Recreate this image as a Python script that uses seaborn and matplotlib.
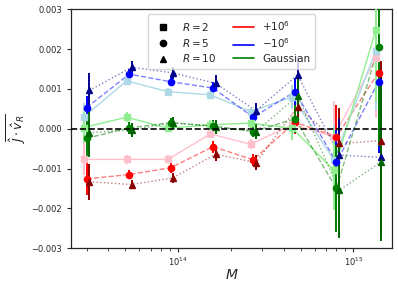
import numpy as np
import pandas as pd
import matplotlib
matplotlib.use("Agg")
import matplotlib.pyplot as plt
from matplotlib.lines import Line2D
import seaborn as sns

# ---- data ----
M_bins = [3.0e13, 5.25e13, 9.05e13, 1.58e14, 2.68e14, 4.64e14, 8.0e14, 1.39e15]

plus_R2 = [-0.00077, -0.00077, -0.00077, -0.00013, -0.00039, 0.00010, -0.00020, 0.00177]
plus_R5 = [-0.00126, -0.00115, -0.00098, -0.00045, -0.00078, 0.00016, -0.00020, 0.00141]
plus_R10 = [-0.00133, -0.00140, -0.00123, -0.00064, -0.00085, 0.00055, -0.00037, -0.00030]
minus_R2 = [0.00030, 0.00120, 0.00093, 0.00085, 0.00043, 0.00080, -0.00078, 0.00196]
minus_R5 = [0.00053, 0.00137, 0.00118, 0.00102, 0.00029, 0.00093, -0.00084, 0.00118]
minus_R10 = [0.00096, 0.00154, 0.00140, 0.00114, 0.00045, 0.00135, -0.00066, -0.00072]
gauss_R2 = [0.00003, 0.00029, 0.00001, 0.00010, 0.00014, 0.00001, -0.00104, 0.00248]
gauss_R5 = [-0.00024, 0.00002, 0.00015, 0.00007, -0.00007, 0.00025, -0.00150, 0.00206]
gauss_R10 = [-0.00010, -0.00003, 0.00015, 0.00005, -0.00007, 0.00082, -0.00155, -0.00083]

plus_R2_err = [0.00040, 0.00012, 0.00010, 0.00010, 0.00012, 0.00030, 0.00090, 0.00150]
plus_R5_err = [0.00040, 0.00012, 0.00012, 0.00015, 0.00015, 0.00030, 0.00080, 0.00200]
plus_R10_err = [0.00045, 0.00012, 0.00012, 0.00018, 0.00018, 0.00045, 0.00090, 0.00200]
minus_R2_err = [0.00035, 0.00010, 0.00010, 0.00010, 0.00010, 0.00030, 0.00090, 0.00150]
minus_R5_err = [0.00030, 0.00012, 0.00012, 0.00015, 0.00015, 0.00035, 0.00080, 0.00180]
minus_R10_err = [0.00045, 0.00015, 0.00015, 0.00020, 0.00020, 0.00045, 0.00090, 0.00200]
gauss_R2_err = [0.00040, 0.00012, 0.00010, 0.00012, 0.00012, 0.00030, 0.00100, 0.00180]
gauss_R5_err = [0.00055, 0.00015, 0.00012, 0.00015, 0.00015, 0.00035, 0.00110, 0.00250]
gauss_R10_err = [0.00060, 0.00018, 0.00015, 0.00018, 0.00018, 0.00045, 0.00120, 0.00200]

R_labels = ["$R=2$", "$R=5$", "$R=10$"]
case_labels = ["$+10^6$", "$-10^6$", "Gaussian"]

series = {
    ("plus", 2): (plus_R2, plus_R2_err),
    ("plus", 5): (plus_R5, plus_R5_err),
    ("plus", 10): (plus_R10, plus_R10_err),
    ("minus", 2): (minus_R2, minus_R2_err),
    ("minus", 5): (minus_R5, minus_R5_err),
    ("minus", 10): (minus_R10, minus_R10_err),
    ("gauss", 2): (gauss_R2, gauss_R2_err),
    ("gauss", 5): (gauss_R5, gauss_R5_err),
    ("gauss", 10): (gauss_R10, gauss_R10_err),
}

colors = {
    ("plus", 2): "pink", ("plus", 5): "red", ("plus", 10): "darkred",
    ("minus", 2): "lightblue", ("minus", 5): "blue", ("minus", 10): "darkblue",
    ("gauss", 2): "lightgreen", ("gauss", 5): "green", ("gauss", 10): "darkgreen",
}
markers = {2: "s", 5: "o", 10: "^"}
linestyles = {2: "-", 5: "--", 10: ":"}
line_alpha = {2: 1.0, 5: 0.5, 10: 0.5}
shift = {2: 1 / 1.035, 5: 1.0, 10: 1.035}

sns.set_style("ticks")
fig = plt.figure(figsize=(3.98, 2.87), dpi=100)
ax = fig.add_axes([0.178, 0.135, 0.807, 0.833])

M = np.array(M_bins)
for (case, R), (vals, errs) in series.items():
    c = colors[(case, R)]
    x = M * shift[R]
    df = pd.DataFrame({"M": x, "v": vals})
    sns.lineplot(data=df, x="M", y="v", ax=ax, color=c, linestyle=linestyles[R],
                 alpha=line_alpha[R], lw=1.0, legend=False, sort=False)
    ax.errorbar(x, vals, yerr=errs, fmt=markers[R], color=c, ms=4.5,
                elinewidth=1.4, capsize=0, zorder=3)

ax.axhline(0, color="black", ls="--", lw=1.2, zorder=4)
ax.set_xscale("log")
ax.set_xlim(2.44e13, 1.66e15)
ax.set_ylim(-0.003, 0.003)
ax.set_yticks([-0.003, -0.002, -0.001, 0.0, 0.001, 0.002, 0.003])
ax.set_yticklabels(["\u22120.003", "\u22120.002", "\u22120.001", "0.000", "0.001", "0.002", "0.003"])
ax.tick_params(labelsize=6, length=3)
ax.tick_params(axis="x", pad=2)
ax.tick_params(which="minor", length=2)
ax.set_xlabel("$M$", fontsize=10, labelpad=0)
ax.set_ylabel(r"$\overline{\hat{J}\cdot\hat{v}_R}$", fontsize=9, labelpad=2)
for s in ax.spines.values():
    s.set_linewidth(0.9)

handles = [Line2D([], [], color="black", marker=markers[R], ls="none", ms=4.5) for R in (2, 5, 10)]
handles += [Line2D([], [], color=c, lw=1.2) for c in ("red", "blue", "green")]
labels = R_labels + case_labels
ax.legend(handles, labels, loc="upper center", ncol=2, fontsize=7.5,
          handlelength=2.0, columnspacing=1.6, labelspacing=0.35, borderpad=0.45)

fig.savefig("out.png", dpi=100)
